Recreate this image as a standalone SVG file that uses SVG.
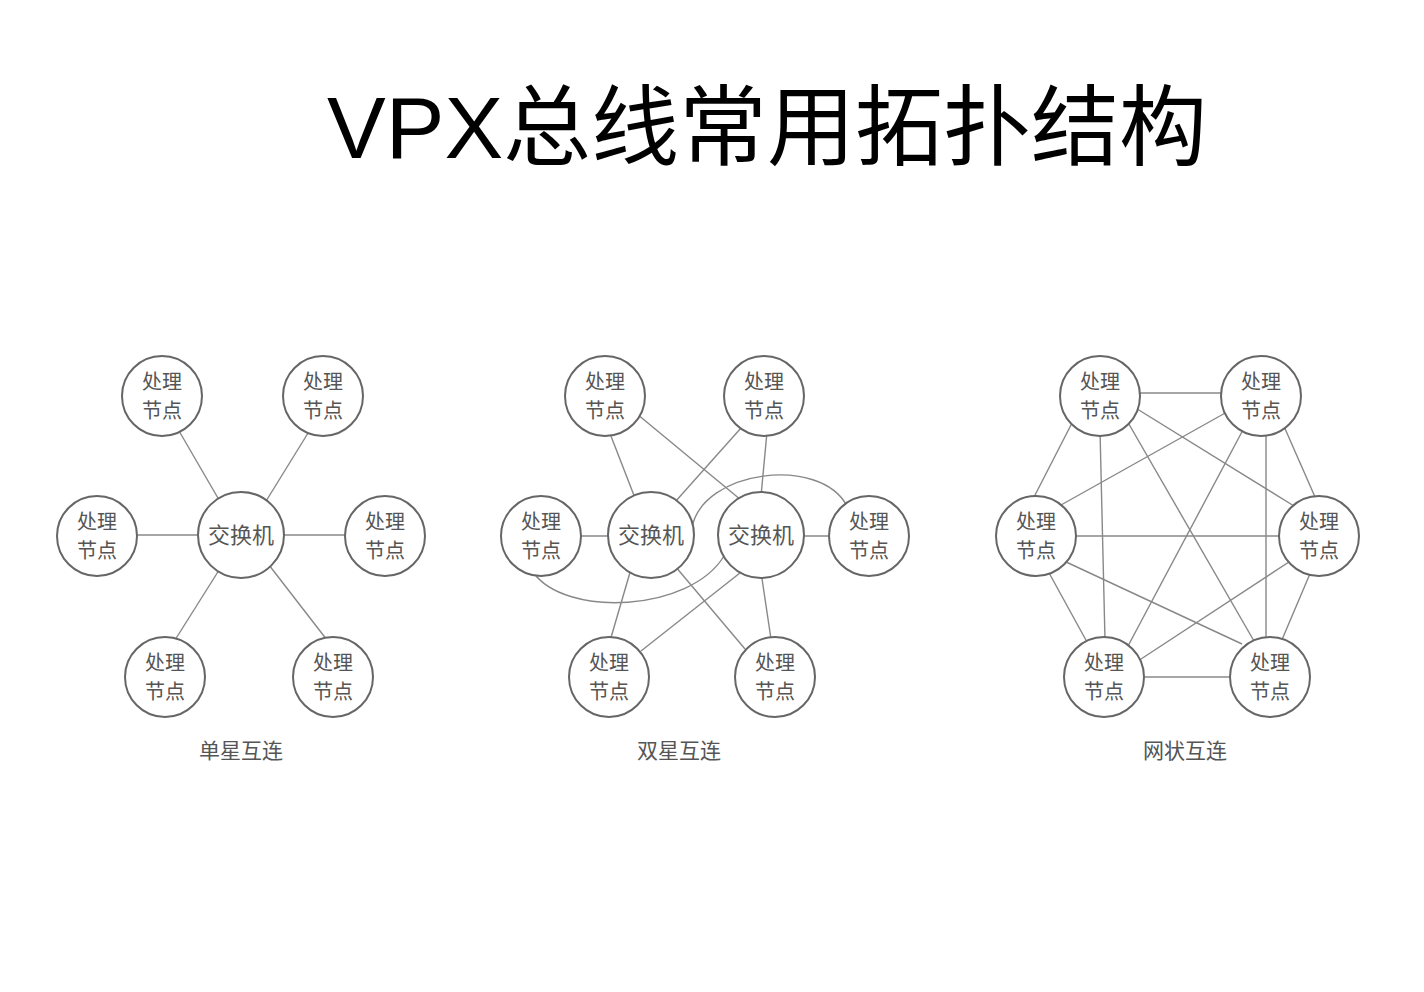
<svg xmlns="http://www.w3.org/2000/svg" width="1424" height="992" viewBox="0 0 1424 992">
<style>
.n{fill:#fff;stroke:#666;stroke-width:2}
.t{font-family:"Noto Sans CJK SC","Liberation Sans",sans-serif;font-size:20px;fill:#555;text-anchor:middle}
.w{font-family:"Noto Sans CJK SC","Liberation Sans",sans-serif;font-size:22px;fill:#555;text-anchor:middle}
.c{font-family:"Noto Sans CJK SC","Liberation Sans",sans-serif;font-size:21px;fill:#555;text-anchor:middle}
.e line,.e path{stroke:#888;stroke-width:1.4;fill:none}
</style>
<rect width="1424" height="992" fill="#fff"/>
<text x="327" y="158" font-family="'Liberation Sans','Noto Sans CJK SC',sans-serif" font-size="88" fill="#000">VPX总线常用拓扑结构</text>

<g id="connectors" class="e">
<!-- single star -->
<line x1="175" y1="424" x2="222" y2="505"/>
<line x1="313" y1="425" x2="263" y2="506"/>
<line x1="135" y1="535" x2="200" y2="535"/>
<line x1="282" y1="535" x2="347" y2="535"/>
<line x1="221" y1="567" x2="175" y2="640"/>
<line x1="269" y1="565" x2="327" y2="640"/>
<!-- double star -->
<line x1="609" y1="431" x2="635" y2="498"/>
<line x1="637" y1="414" x2="741" y2="500"/>
<line x1="741" y1="428" x2="675" y2="502"/>
<line x1="767" y1="432" x2="761" y2="496"/>
<line x1="578" y1="536" x2="612" y2="536"/>
<line x1="800" y1="536" x2="833" y2="536"/>
<line x1="631" y1="569" x2="610" y2="641"/>
<line x1="675" y1="566" x2="745" y2="649"/>
<line x1="745" y1="569" x2="641" y2="651"/>
<line x1="761" y1="572" x2="771" y2="639"/>
<path d="M 533 572 C 565 618, 690 612, 724 556"/>
<path d="M 692 528 C 702 470, 820 455, 847 506"/>
<!-- mesh -->
<line x1="1138" y1="393" x2="1224" y2="393"/>
<line x1="1072" y1="423" x2="1033" y2="499"/>
<line x1="1100" y1="430" x2="1105" y2="640"/>
<line x1="1126" y1="419" x2="1254" y2="641"/>
<line x1="1134" y1="407" x2="1294" y2="506"/>
<line x1="1227" y1="412" x2="1061" y2="505"/>
<line x1="1244" y1="428" x2="1128" y2="646"/>
<line x1="1266" y1="432" x2="1266" y2="642"/>
<line x1="1283" y1="424" x2="1315" y2="497"/>
<line x1="1073" y1="536" x2="1282" y2="536"/>
<line x1="1048" y1="571" x2="1087" y2="642"/>
<line x1="1064" y1="561" x2="1242" y2="644"/>
<line x1="1292" y1="560" x2="1138" y2="661"/>
<line x1="1312" y1="569" x2="1281" y2="642"/>
<line x1="1143" y1="677" x2="1234" y2="677"/>
</g>

<!-- single star nodes -->
<g id="s1-tl"><circle class="n" cx="162" cy="396" r="40"/><text class="t" x="162" y="389">处理<tspan x="162" dy="29">节点</tspan></text></g>
<g id="s1-tr"><circle class="n" cx="323" cy="396" r="40"/><text class="t" x="323" y="389">处理<tspan x="323" dy="29">节点</tspan></text></g>
<g id="s1-l"><circle class="n" cx="97" cy="536" r="40"/><text class="t" x="97" y="529">处理<tspan x="97" dy="29">节点</tspan></text></g>
<g id="s1-sw"><circle class="n" cx="241" cy="535" r="43"/><text class="w" x="241" y="543">交换机</text></g>
<g id="s1-r"><circle class="n" cx="385" cy="536" r="40"/><text class="t" x="385" y="529">处理<tspan x="385" dy="29">节点</tspan></text></g>
<g id="s1-bl"><circle class="n" cx="165" cy="677" r="40"/><text class="t" x="165" y="670">处理<tspan x="165" dy="29">节点</tspan></text></g>
<g id="s1-br"><circle class="n" cx="333" cy="677" r="40"/><text class="t" x="333" y="670">处理<tspan x="333" dy="29">节点</tspan></text></g>
<g id="cap1"><text class="c" x="241" y="758">单星互连</text></g>

<!-- double star nodes -->
<g id="s2-tl"><circle class="n" cx="605" cy="396" r="40"/><text class="t" x="605" y="389">处理<tspan x="605" dy="29">节点</tspan></text></g>
<g id="s2-tr"><circle class="n" cx="764" cy="396" r="40"/><text class="t" x="764" y="389">处理<tspan x="764" dy="29">节点</tspan></text></g>
<g id="s2-l"><circle class="n" cx="541" cy="536" r="40"/><text class="t" x="541" y="529">处理<tspan x="541" dy="29">节点</tspan></text></g>
<g id="s2-sw1"><circle class="n" cx="651" cy="535" r="43"/><text class="w" x="651" y="543">交换机</text></g>
<g id="s2-sw2"><circle class="n" cx="761" cy="535" r="43"/><text class="w" x="761" y="543">交换机</text></g>
<g id="s2-r"><circle class="n" cx="869" cy="536" r="40"/><text class="t" x="869" y="529">处理<tspan x="869" dy="29">节点</tspan></text></g>
<g id="s2-bl"><circle class="n" cx="609" cy="677" r="40"/><text class="t" x="609" y="670">处理<tspan x="609" dy="29">节点</tspan></text></g>
<g id="s2-br"><circle class="n" cx="775" cy="677" r="40"/><text class="t" x="775" y="670">处理<tspan x="775" dy="29">节点</tspan></text></g>
<g id="cap2"><text class="c" x="679" y="758">双星互连</text></g>

<!-- mesh nodes -->
<g id="m-tl"><circle class="n" cx="1100" cy="396" r="40"/><text class="t" x="1100" y="389">处理<tspan x="1100" dy="29">节点</tspan></text></g>
<g id="m-tr"><circle class="n" cx="1261" cy="396" r="40"/><text class="t" x="1261" y="389">处理<tspan x="1261" dy="29">节点</tspan></text></g>
<g id="m-l"><circle class="n" cx="1036" cy="536" r="40"/><text class="t" x="1036" y="529">处理<tspan x="1036" dy="29">节点</tspan></text></g>
<g id="m-r"><circle class="n" cx="1319" cy="536" r="40"/><text class="t" x="1319" y="529">处理<tspan x="1319" dy="29">节点</tspan></text></g>
<g id="m-bl"><circle class="n" cx="1104" cy="677" r="40"/><text class="t" x="1104" y="670">处理<tspan x="1104" dy="29">节点</tspan></text></g>
<g id="m-br"><circle class="n" cx="1270" cy="677" r="40"/><text class="t" x="1270" y="670">处理<tspan x="1270" dy="29">节点</tspan></text></g>
<g id="cap3"><text class="c" x="1185" y="758">网状互连</text></g>
</svg>
